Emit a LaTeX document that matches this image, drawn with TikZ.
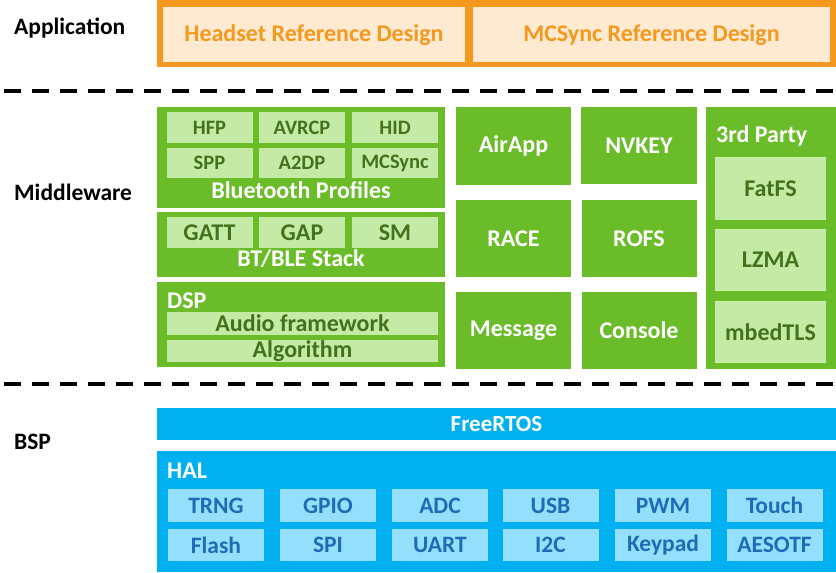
\documentclass[tikz,border=0pt]{standalone}
\usepackage{fontspec}
\setmainfont{Carlito}
\usetikzlibrary{positioning}
\definecolor{apporange}{RGB}{245,152,30}
\definecolor{applight}{RGB}{253,234,208}
\definecolor{mwgreen}{RGB}{106,189,41}
\definecolor{mwlight}{RGB}{196,235,165}
\definecolor{mwdark}{RGB}{66,115,28}
\definecolor{bspblue}{RGB}{0,176,240}
\definecolor{bsplight}{RGB}{148,224,252}
\definecolor{bspdark}{RGB}{30,108,184}

\begin{document}
\begin{tikzpicture}[x=1pt, y=-1pt,
      layer/.style={anchor=west, inner sep=0pt, font=\fontsize{23.5}{25}\selectfont\bfseries},
      blk/.style={rectangle, inner sep=0pt, font=\fontsize{24}{26}\selectfont\bfseries},
      appcell/.style={blk, fill=applight, text=apporange, text depth=3pt},
      mwbox/.style={blk, fill=mwgreen, text=white},
      mwcell/.style={blk, fill=mwlight, text=mwdark},
      profcell/.style={mwcell, minimum width=86pt, font=\fontsize{20.5}{22}\selectfont\bfseries},
      mwtag/.style={text=white, inner sep=0pt, font=\fontsize{24}{26}\selectfont\bfseries},
      bspbox/.style={blk, fill=bspblue, text=white},
      halcell/.style={blk, fill=bsplight, text=bspdark, minimum width=96pt, font=\fontsize{23.5}{25}\selectfont\bfseries},
      sep/.style={line width=4.5pt, dash pattern=on 17pt off 11pt}]
    \useasboundingbox (0,0) rectangle (836,573);
    % layer names
    \node[layer] (lapp) at (14,28) {Application};
    \node[layer] (lmw) at (14,192) {Middleware};
    \node[layer] (lbsp) at (14,442) {BSP};
    % application
    \node[blk, fill=apporange, minimum width=679pt, minimum height=67pt] (app) at (496.5,33.5) {};
    \node[appcell, minimum width=302pt, minimum height=55pt] (headset) at (314,34.5) {Headset Reference Design};
    \node[appcell, minimum width=357pt, minimum height=55pt] (mcsync) at (651.5,34.5) {MCSync Reference Design};
    \coordinate (sepa) at (4,91); \coordinate (sepb) at (836,91);
    \draw[sep] (sepa) -- (sepb);
    % middleware: bluetooth profiles
    \node[mwbox, minimum width=288pt, minimum height=101pt] (btp) at (301,157.5) {};
    \node[profcell, minimum height=31pt] (hfp) at (209.5,127.5) {HFP};
    \node[profcell, minimum height=31pt] (avrcp) at (302,127.5) {AVRCP};
    \node[profcell, minimum height=31pt] (hid) at (395,127.5) {HID};
    \node[profcell, minimum height=30pt] (spp) at (209.5,163) {SPP};
    \node[profcell, minimum height=30pt] (a2dp) at (302,163) {A2DP};
    \node[profcell, minimum height=30pt] (mcs) at (395,163) {MCSync};
    \node[mwtag] (btptag) at (301,190) {Bluetooth Profiles};
    % bt/ble stack
    \node[mwbox, minimum width=288pt, minimum height=65pt] (ble) at (301,244.5) {};
    \node[mwcell, minimum width=86pt, minimum height=31pt] (gatt) at (209.5,232.5) {GATT};
    \node[mwcell, minimum width=86pt, minimum height=31pt] (gap) at (302,232.5) {GAP};
    \node[mwcell, minimum width=86pt, minimum height=31pt] (sm) at (395,232.5) {SM};
    \node[mwtag] (bletag) at (301,259) {BT/BLE Stack};
    % dsp
    \node[mwbox, minimum width=288pt, minimum height=85pt] (dsp) at (301,324.5) {};
    \node[mwtag, anchor=west] (dsptag) at (167,301) {DSP};
    \node[mwcell, minimum width=271pt, minimum height=23pt] (audio) at (302.5,323.5) {Audio framework};
    \node[mwcell, minimum width=271pt, minimum height=22pt] (algo) at (302.5,351) {Algorithm};
    % middleware: services
    \node[mwbox, minimum width=115pt, minimum height=78pt] (airapp) at (513.5,146) {AirApp};
    \node[mwbox, minimum width=116pt, minimum height=77pt] (nvkey) at (639,145.5) {NVKEY};
    \node[mwbox, minimum width=115pt, minimum height=77pt] (race) at (513.5,238.5) {RACE};
    \node[mwbox, minimum width=115pt, minimum height=77pt] (rofs) at (639,238.5) {ROFS};
    \node[mwbox, minimum width=115pt, minimum height=77pt] (msg) at (513.5,330.5) {Message};
    \node[mwbox, minimum width=115pt, minimum height=77pt] (console) at (639,330.5) {Console};
    % 3rd party
    \node[mwbox, minimum width=130pt, minimum height=262pt] (third) at (771,238) {};
    \node[mwtag, anchor=west] (thirdtag) at (716,136) {3rd Party};
    \node[mwcell, minimum width=111pt, minimum height=63pt] (fatfs) at (770.5,188.5) {FatFS};
    \node[mwcell, minimum width=111pt, minimum height=62pt] (lzma) at (770.5,260) {LZMA};
    \node[mwcell, minimum width=111pt, minimum height=62pt] (mbed) at (770.5,332) {mbedTLS};
    \coordinate (sepc) at (4,384); \coordinate (sepd) at (836,384);
    \draw[sep] (sepc) -- (sepd);
    % bsp
    \node[bspbox, minimum width=679pt, minimum height=32pt, font=\fontsize{23}{25}\selectfont\bfseries] (rtos) at (496.5,424) {FreeRTOS};
    \node[bspbox, minimum width=679pt, minimum height=121pt] (hal) at (496.5,511.5) {};
    \node[mwtag, anchor=west] (haltag) at (167,471) {HAL};
    \node[halcell, minimum height=33pt] (trng) at (216,505.5) {TRNG};
    \node[halcell, minimum height=33pt] (gpio) at (328,505.5) {GPIO};
    \node[halcell, minimum height=33pt] (adc) at (440,505.5) {ADC};
    \node[halcell, minimum height=33pt] (usb) at (550.5,505.5) {USB};
    \node[halcell, minimum height=33pt] (pwm) at (663,505.5) {PWM};
    \node[halcell, minimum height=33pt] (touch) at (774.5,505.5) {Touch};
    \node[halcell, minimum height=32pt] (flash) at (216,545) {Flash};
    \node[halcell, minimum height=32pt] (spi) at (328,545) {SPI};
    \node[halcell, minimum height=32pt] (uart) at (440,545) {UART};
    \node[halcell, minimum height=32pt] (i2c) at (550.5,545) {I2C};
    \node[halcell, minimum height=32pt] (keypad) at (663,545) {Keypad};
    \node[halcell, minimum height=32pt] (aesotf) at (774.5,545) {AESOTF};
  \end{tikzpicture}
\end{document}
